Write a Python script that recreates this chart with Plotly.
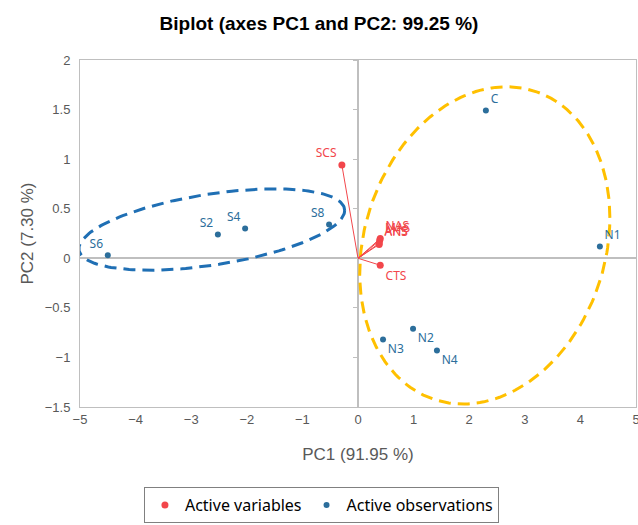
import numpy as np
import plotly.graph_objects as go

# ---------------- data ----------------
obs_names = ["C", "N1", "S6", "S2", "S4", "S8", "N3", "N2", "N4"]
obs_pc1 = [2.30, 4.35, -4.50, -2.52, -2.03, -0.52, 0.45, 0.99, 1.42]
obs_pc2 = [1.49, 0.12, 0.03, 0.24, 0.30, 0.34, -0.82, -0.71, -0.93]

var_names = ["SCS", "CTS", "NAS", "MAS", "AHS", "ANS"]
var_pc1 = [-0.29, 0.40, 0.40, 0.39, 0.38, 0.38]
var_pc2 = [0.94, -0.07, 0.20, 0.18, 0.15, 0.14]

# group ellipses: centre, half-extent along PC1, half-extent along PC2, phase (deg)
ell_s_center = (-2.63, 0.29)
ell_s_half = (2.39, 0.41)
ell_s_phase = 62
ell_n_center = (2.28, 0.13)
ell_n_half = (2.25, 1.60)
ell_n_phase = 80

x_ticks = [-5, -4, -3, -2, -1, 0, 1, 2, 3, 4, 5]
y_ticks = [-1.5, -1, -0.5, 0, 0.5, 1, 1.5, 2]

# ---------------- styles ----------------
OBS_COLOR = "#2C6E9B"
VAR_COLOR = "#F2464B"
BLUE_ELL = "#1F6FB4"
GOLD_ELL = "#FFC000"
AXIS_GREY = "#BFBFBF"
TXT_GREY = "#595959"
FONT = "Liberation Sans, Arial, sans-serif"
LBL_FONT = "Noto Sans, sans-serif"

obs_textpos = ["top right", "top right", "top left", "top left", "top left",
               "top left", "bottom right", "bottom right", "bottom right"]
var_textpos = ["top left", "bottom right", "top right", "top right", "top right", "top right"]


def ellipse(center, half, phase_deg, n=200):
    t = np.linspace(0, 2 * np.pi, n)
    d = np.deg2rad(phase_deg)
    return center[0] + half[0] * np.cos(t), center[1] + half[1] * np.cos(t - d)


fig = go.Figure()

for c, h, p, col in [(ell_s_center, ell_s_half, ell_s_phase, BLUE_ELL),
                     (ell_n_center, ell_n_half, ell_n_phase, GOLD_ELL)]:
    ex, ey = ellipse(c, h, p)
    fig.add_trace(go.Scatter(x=ex, y=ey, mode="lines", showlegend=False,
                             hoverinfo="skip",
                             line=dict(color=col, width=3, dash="12px,7px")))

# variable vectors from origin
vx, vy = [], []
for a, b in zip(var_pc1, var_pc2):
    vx += [0, a, None]
    vy += [0, b, None]
fig.add_trace(go.Scatter(x=vx, y=vy, mode="lines", showlegend=False,
                         hoverinfo="skip", line=dict(color=VAR_COLOR, width=1)))

fig.add_trace(go.Scatter(x=var_pc1, y=var_pc2, mode="markers+text",
                         name="Active variables", text=var_names,
                         textposition=var_textpos,
                         textfont=dict(color=VAR_COLOR, size=12, family=LBL_FONT),
                         marker=dict(color=VAR_COLOR, size=7)))

fig.add_trace(go.Scatter(x=obs_pc1, y=obs_pc2, mode="markers+text",
                         name="Active observations", text=obs_names,
                         textposition=obs_textpos,
                         textfont=dict(color=OBS_COLOR, size=12, family=LBL_FONT),
                         marker=dict(color=OBS_COLOR, size=6)))

# overlay axis for tick marks on the vertical zero line
fig.add_trace(go.Scatter(x=[None], y=[None], xaxis="x", yaxis="y2",
                         showlegend=False, hoverinfo="skip"))

fig.update_layout(
    width=638, height=525,
    margin=dict(l=80, r=2, t=60, b=115),
    paper_bgcolor="white", plot_bgcolor="white",
    title=dict(text="<b>Biplot (axes PC1 and PC2: 99.25 %)</b>",
               x=0.5, xanchor="center", y=0.956, yanchor="middle",
               font=dict(family=FONT, size=19, color="#000000")),
    font=dict(family=FONT, color=TXT_GREY),
    xaxis=dict(range=[-5, 5], tickvals=x_ticks, showgrid=False,
               showline=True, mirror=True, linecolor=AXIS_GREY, linewidth=1,
               zeroline=True, zerolinecolor=AXIS_GREY, zerolinewidth=1.5,
               ticks="", ticklabeloverflow="allow", automargin="bottom",
               tickfont=dict(size=13, color=TXT_GREY),
               title=dict(text="PC1 (91.95 %)", font=dict(size=17, color=TXT_GREY),
                          standoff=22)),
    yaxis=dict(range=[-1.5, 2], tickvals=y_ticks, showgrid=False,
               showline=True, mirror=True, linecolor=AXIS_GREY, linewidth=1,
               zeroline=True, zerolinecolor=AXIS_GREY, zerolinewidth=1.5,
               ticks="", ticklabelstandoff=6, automargin="left",
               tickfont=dict(size=13, color=TXT_GREY),
               title=dict(text="PC2 (7.30 %)", font=dict(size=17, color=TXT_GREY),
                          standoff=6)),
    yaxis2=dict(overlaying="y", anchor="free", position=0.5, range=[-1.5, 2],
                tickvals=y_ticks, showticklabels=False, showgrid=False,
                zeroline=False, showline=False, ticks="outside", ticklen=5,
                tickcolor=AXIS_GREY),
    legend=dict(orientation="h", x=0.115, xanchor="left", y=-0.231, yanchor="top",
                bordercolor="#808080", borderwidth=1,
                font=dict(family=LBL_FONT, size=16, color="#000000"),
                itemwidth=30, tracegroupgap=0),
)

fig.write_html("out.html")
